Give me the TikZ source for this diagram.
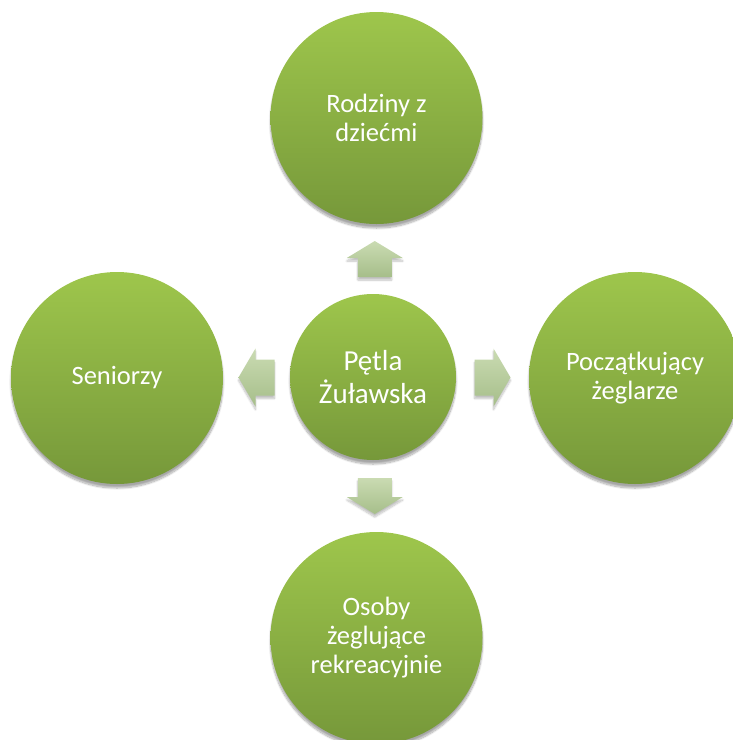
\documentclass[tikz,border=0pt]{standalone}
\usepackage{fontspec}
\setmainfont{Carlito}
\usetikzlibrary{calc,shadows.blur}
\definecolor{gtop}{HTML}{9EC64C}
\definecolor{gbot}{HTML}{76983A}
\definecolor{atop}{HTML}{CADBB2}
\definecolor{abot}{HTML}{A6BE8A}
\tikzset{
  ball/.style={circle, inner sep=0pt, top color=gtop, bottom color=gbot, draw=none,
    text=white, align=center,
    blur shadow={shadow xshift=0pt, shadow yshift=-4pt, shadow opacity=35, shadow blur steps=12}},
  sat/.style={ball, minimum size=212pt, font=\fontsize{26.5}{29}\selectfont},
  hub/.style={ball, minimum size=166pt, font=\fontsize{29}{32.5}\selectfont},
  blockarrow/.style={top color=atop, bottom color=abot, draw=none,
    blur shadow={shadow xshift=0pt, shadow yshift=-3pt, shadow opacity=25, shadow blur steps=8}}
}
\begin{document}
\begin{tikzpicture}[x=1pt,y=-1pt]
\useasboundingbox (0,0) rectangle (732,740);
\node[sat] (t) at (376.5,118) {Rodziny z\\dziećmi};
\node[sat] (l) at (117,378) {Seniorzy};
\node[sat] (r) at (635,378) {Początkujący\\żeglarze};
\node[sat] (b) at (376.5,638) {Osoby\\żeglujące\\rekreacyjnie};
\node[hub] (c) at (373,377) {Pętla\\Żuławska};
\coordinate (au) at ($(c.north)!0.5!(t.south)$);
\coordinate (ad) at ($(c.south)!0.5!(b.north)$);
\coordinate (al) at ($(c.west)!0.5!(l.east)$);
\coordinate (ar) at ($(c.east)!0.5!(r.west)$);
\path[blockarrow] ($(au)+(0,-18)$) -- ++(28,17) -- ++(-11,0) -- ++(0,19) -- ++(-34,0) -- ++(0,-19) -- ++(-11,0) -- cycle;
\path[blockarrow] ($(ad)+(0,18)$) -- ++(28,-17) -- ++(-11,0) -- ++(0,-19) -- ++(-34,0) -- ++(0,19) -- ++(-11,0) -- cycle;
\path[blockarrow] ($(al)+(-18,0)$) -- ++(17,-29) -- ++(0,11) -- ++(19,0) -- ++(0,36) -- ++(-19,0) -- ++(0,11) -- cycle;
\path[blockarrow] ($(ar)+(18,0)$) -- ++(-17,-29) -- ++(0,11) -- ++(-19,0) -- ++(0,36) -- ++(19,0) -- ++(0,11) -- cycle;
\end{tikzpicture}
\end{document}
